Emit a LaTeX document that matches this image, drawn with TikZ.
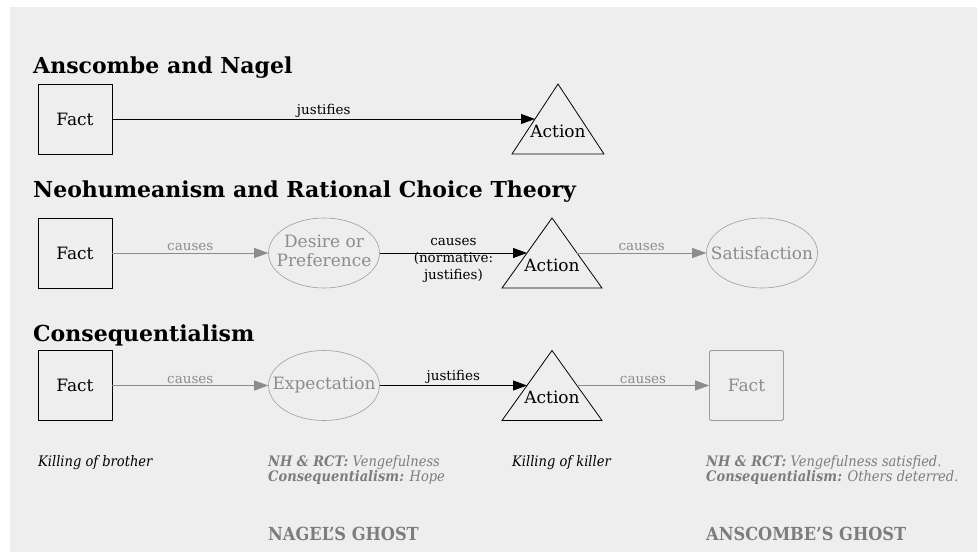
\documentclass[tikz,border=0pt]{standalone}
\usepackage{fontspec}
\setmainfont{DejaVu Serif}
\newfontfamily\condfont{DejaVu Serif Condensed}
\definecolor{PanelGray}{RGB}{238,238,238}
\definecolor{GhostGray}{RGB}{140,140,140}
\definecolor{NoteGray}{RGB}{125,125,125}
\usetikzlibrary{
    shapes.geometric,
    arrows.meta,
    positioning,
    calc,
}

\tikzset{
    heading/.style={anchor=base west, inner sep=0pt, font=\fontsize{22}{24}\selectfont\bfseries},
    factbox/.style={rectangle, draw, line width=0.8pt, minimum width=74pt, minimum height=70pt, inner sep=0pt, font=\fontsize{17}{19}\selectfont},
    ghostbox/.style={factbox, draw=GhostGray!85, text=GhostGray, rounded corners=1.5pt},
    ghostoval/.style={ellipse, draw=GhostGray!85, line width=0.6pt, text=GhostGray, minimum width=111pt, minimum height=70pt, inner sep=0pt, font=\fontsize{17}{19}\selectfont},
    actshape/.style={draw, line width=0.8pt},
    acttext/.style={inner sep=0pt, font=\fontsize{17}{19}\selectfont},
    edgelabel/.style={above, inner sep=1.5pt, font=\fontsize{13.5}{17}\selectfont},
    justifies/.style={-{Triangle[length=14pt,width=10pt]}, line width=0.8pt},
    causes/.style={justifies, color=GhostGray},
    note/.style={anchor=base west, inner sep=0pt, align=left, font=\condfont\fontsize{14.5}{15.5}\selectfont\itshape},
    ghostnote/.style={anchor=base west, inner sep=0pt, text=NoteGray, font=\condfont\fontsize{18}{20}\selectfont\bfseries},
}

\begin{document}
\begin{tikzpicture}[x=1pt, y=-1pt]
    \useasboundingbox (0,0) rectangle (977,552);
    \fill[PanelGray] (10,7) rectangle (977,552);

    % headings
    \node[heading] (h1) at (33,73) {Anscombe and Nagel};
    \node[heading] (h2) at (33,197) {Neohumeanism and Rational Choice Theory};
    \node[heading] (h3) at (33,341) {Consequentialism};

    % the three actions
    \foreach \r/\x/\y/\w in {1/558/119/46, 2/552/253/50, 3/552/385.5/50} {
        \coordinate (act\r) at (\x,\y);
        \draw[actshape] ($(act\r)+(0,-35)$) -- ($(act\r)+(\w,35)$) -- ($(act\r)+(-\w,35)$) -- cycle;
        \node[acttext] (act\r txt) at ($(act\r)+(0,12)$) {Action};
        \coordinate (act\r w) at ($(act\r)+(-\w/2,0)$);
        \coordinate (act\r e) at ($(act\r)+(\w/2,0)$);
    }

    % row 1
    \node[factbox] (fact1) at (75,119) {Fact};
    \draw[justifies] (fact1) -- node[edgelabel] {justifies} (act1w);

    % row 2
    \node[factbox] (fact2) at (75,253) {Fact};
    \node[ghostoval] (pref2) at (324,253) {\makebox[0pt]{\begin{tabular}{@{}c@{}}Desire or\\Preference\end{tabular}}};
    \node[ghostoval] (sat2) at (762,253) {\makebox[0pt]{Satisfaction}};
    \draw[causes] (fact2) -- node[edgelabel] {causes} (pref2);
    \draw[justifies] (pref2) -- node[midway, yshift=-7pt, align=center, inner sep=0pt, font=\fontsize{13.5}{17}\selectfont] {causes\\(normative:\\justifies)} (act2w);
    \draw[causes] (act2e) -- node[edgelabel] {causes} (sat2);

    % row 3
    \node[factbox] (fact3) at (75,385.5) {Fact};
    \node[ghostoval] (exp3) at (324,385.5) {\makebox[0pt]{Expectation}};
    \node[ghostbox] (fact3b) at (746.5,385.5) {Fact};
    \draw[causes] (fact3) -- node[edgelabel] {causes} (exp3);
    \draw[justifies] (exp3) -- node[edgelabel] {justifies} (act3w);
    \draw[causes] (act3e) -- node[edgelabel] {causes} (fact3b);

    % notes
    \node[note] (brother) at (38,466) {Killing of brother};
    \node[note, text=NoteGray] (vengeful) at (268,481.5) {\textbf{NH \& RCT:} Vengefulness\\\textbf{Consequentialism:} Hope};
    \node[note] (killer) at (512,466) {Killing of killer};
    \node[note, text=NoteGray] (deterred) at (706,481.5) {\textbf{NH \& RCT:} Vengefulness satisfied.\\\textbf{Consequentialism:} Others deterred.};
    \node[ghostnote] (nagel) at (268,540) {NAGEL’S GHOST};
    \node[ghostnote] (anscombe) at (706,540) {ANSCOMBE’S GHOST};
\end{tikzpicture}
\end{document}
